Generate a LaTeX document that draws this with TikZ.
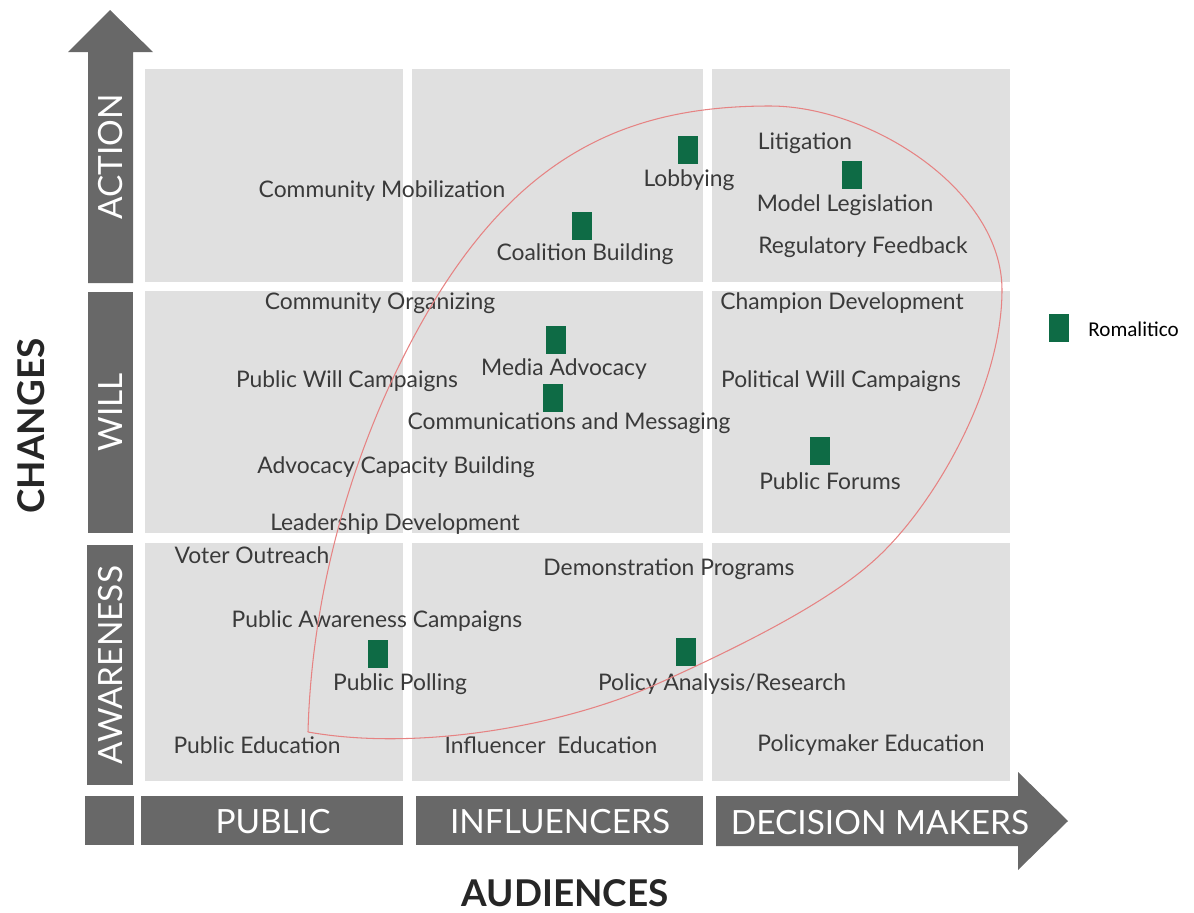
\documentclass[tikz,border=0pt]{standalone}
\usepackage{fontspec}
\setmainfont{Lato}
\newfontfamily\legendfont{Carlito}
\definecolor{cellgray}{HTML}{E0E0E0}
\definecolor{axisgray}{HTML}{686868}
\definecolor{txtgray}{HTML}{3A3A3A}
\definecolor{tagreen}{HTML}{0E6B45}
\definecolor{ringred}{HTML}{E68383}

\begin{document}
\begin{tikzpicture}[x=0.02cm, y=-0.02cm]
	\tikzstyle{cell} = [fill=cellgray]
	\tikzstyle{axis} = [fill=axisgray]
	\tikzstyle{item} = [text=txtgray, inner sep=0pt, font=\fontsize{13}{15}\selectfont]
	\tikzstyle{axlabel} = [text=white, inner sep=0pt, font=\fontsize{19}{21}\selectfont]
	\tikzstyle{title} = [text=black!85, inner sep=0pt, font=\bfseries\fontsize{21}{23}\selectfont]
	\tikzstyle{tag} = [fill=tagreen, inner sep=0pt, minimum width=0.4cm, minimum height=0.56cm]
	\useasboundingbox (0,0) rectangle (1194,913);
	% grid of cells
	\fill[cell] (145,69) rectangle (403,282);
	\fill[cell] (412,69) rectangle (703,282);
	\fill[cell] (712,69) rectangle (1010,282);
	\fill[cell] (145,291) rectangle (403,533);
	\fill[cell] (412,291) rectangle (703,533);
	\fill[cell] (712,291) rectangle (1010,533);
	\fill[cell] (145,543) rectangle (403,781);
	\fill[cell] (412,543) rectangle (703,781);
	\fill[cell] (712,543) rectangle (1010,781);
	% changes axis
	\fill[axis] (88,283) -- (88,52) -- (68,52) -- (110,10) -- (153,52) -- (133,52) -- (133,283) -- cycle;
	\fill[axis] (88,292) rectangle (133,533);
	\fill[axis] (87,545) rectangle (133,785);
	% audiences axis
	\fill[axis] (85,796) rectangle (134,845);
	\fill[axis] (141,796) rectangle (403,845);
	\fill[axis] (416,796) rectangle (703,845);
	\fill[axis] (716,796) -- (1018,796) -- (1018,772) -- (1068,821) -- (1018,870) -- (1018,846) -- (716,846) -- cycle;
	\node[axlabel, rotate=90] (action) at (111,157) {ACTION};
	\node[axlabel, rotate=90] (will) at (111,412) {WILL};
	\node[axlabel, rotate=90] (aware) at (111,665) {AWARENESS};
	\node[axlabel] (public) at (273,822) {PUBLIC};
	\node[axlabel] (influ) at (560,822) {INFLUENCERS};
	\node[axlabel] (decis) at (880,823) {DECISION MAKERS};
	\node[title, rotate=90] (changes) at (31,426) {CHANGES};
	\node[title] (audiences) at (565,893) {AUDIENCES};
	% action row
	\node[item] (mobil) at (382,191) {Community Mobilization};
	\node[item] (lobby) at (689,180) {Lobbying};
	\node[item] (litig) at (805,143) {Litigation};
	\node[item] (model) at (845,205) {Model Legislation};
	\node[item] (regul) at (863,247) {Regulatory Feedback};
	\node[item] (coal) at (585,254) {Coalition Building};
	% will row
	\node[item] (organ) at (380,303) {Community Organizing};
	\node[item] (champ) at (842,303) {Champion Development};
	\node[item] (media) at (564,369) {Media Advocacy};
	\node[item] (pwill) at (347,381) {Public Will Campaigns};
	\node[item] (polwill) at (841,381) {Political Will Campaigns};
	\node[item] (comms) at (569,423) {Communications and Messaging};
	\node[item] (capac) at (396,467) {Advocacy Capacity Building};
	\node[item] (forums) at (830,481) {Public Forums};
	\node[item] (leader) at (395,524) {Leadership Development};
	% awareness row
	\node[item] (voter) at (252,555) {Voter Outreach};
	\node[item] (demo) at (669,569) {Demonstration Programs};
	\node[item] (pawar) at (377,621) {Public Awareness Campaigns};
	\node[item] (poll) at (400,684) {Public Polling};
	\node[item] (policy) at (722,684) {Policy Analysis/Research};
	\node[item] (pedu) at (257,745) {Public Education};
	\node[item] (iedu) at (551,745) {Influencer~ Education};
	\node[item] (medu) at (871,745) {Policymaker Education};
	% romalitico tags
	\node[tag] (t1) at (688,150) {};
	\node[tag] (t2) at (852,175) {};
	\node[tag] (t3) at (582,226) {};
	\node[tag] (t4) at (556,340) {};
	\node[tag] (t5) at (553,398) {};
	\node[tag] (t6) at (820,451) {};
	\node[tag] (t7) at (378,654) {};
	\node[tag] (t8) at (686,652) {};
	% legend
	\node[tag] (key) at (1059,328) {};
	\node[anchor=west, inner sep=0pt, font=\legendfont\fontsize{12}{14}\selectfont] (keytxt) at (1088,329) {Romalitico};
	% outline round the Romalitico strategies
	\draw[ringred, line width=0.6pt] (308,732) .. controls (312,582) and (358,426) .. (436,298)
		.. controls (530,145) and (640,106) .. (770,106)
		.. controls (870,106) and (1002,190) .. (1002,290)
		.. controls (1002,390) and (931,512) .. (870,564)
		.. controls (817,610) and (721,655) .. (657,684)
		.. controls (566,725) and (420,752) .. (308,732);
\end{tikzpicture}
\end{document}
